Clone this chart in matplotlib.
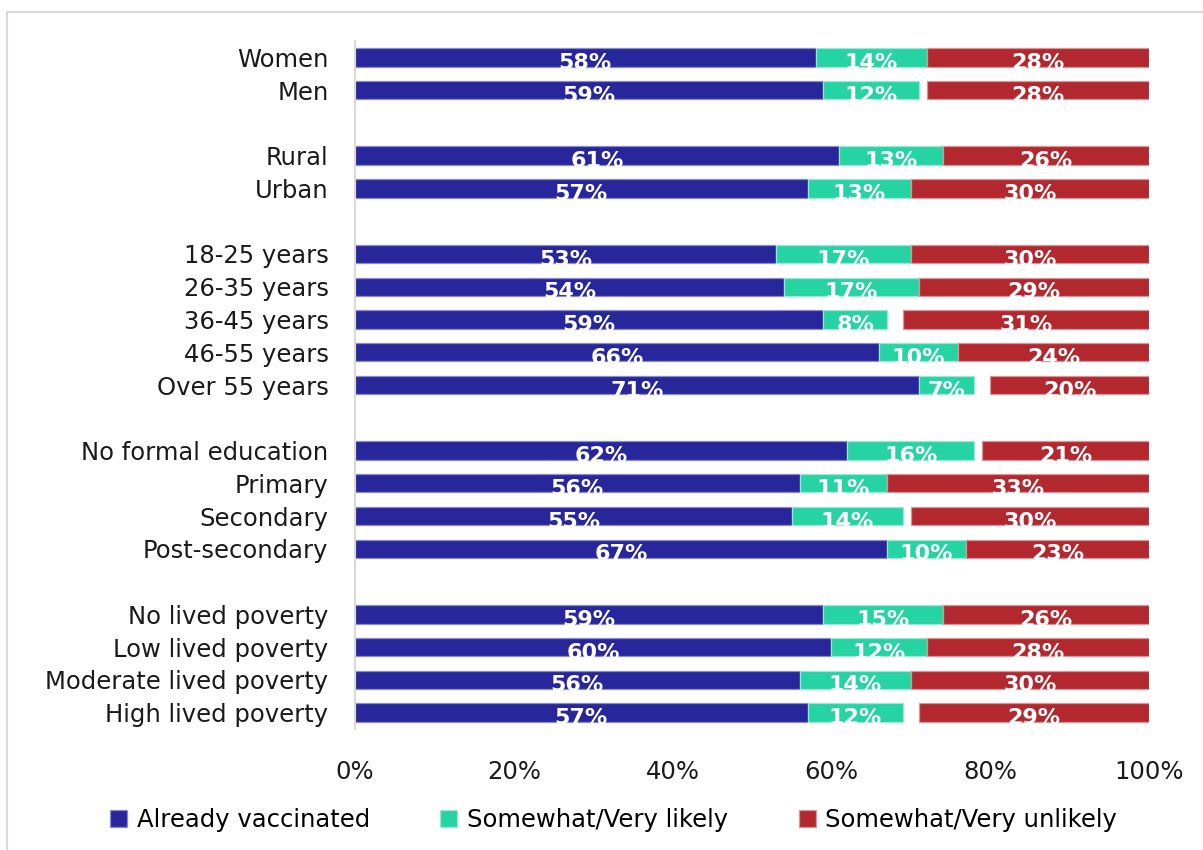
import matplotlib
matplotlib.use("Agg")
import matplotlib.pyplot as plt
from matplotlib.patches import Rectangle
from matplotlib.ticker import FuncFormatter

# Survey groups, top to bottom ("" marks a spacer row between blocks)
categories = [
    "Women", "Men", "",
    "Rural", "Urban", "",
    "18-25 years", "26-35 years", "36-45 years", "46-55 years", "Over 55 years", "",
    "No formal education", "Primary", "Secondary", "Post-secondary", "",
    "No lived poverty", "Low lived poverty", "Moderate lived poverty", "High lived poverty",
]

# Percentages per group (None for spacer rows)
vaccinated = [58, 59, None, 61, 57, None, 53, 54, 59, 66, 71, None,
              62, 56, 55, 67, None, 59, 60, 56, 57]
likely = [14, 12, None, 13, 13, None, 17, 17, 8, 10, 7, None,
          16, 11, 14, 10, None, 15, 12, 14, 12]
unlikely = [28, 28, None, 26, 30, None, 30, 29, 31, 24, 20, None,
            21, 33, 30, 23, None, 26, 28, 30, 29]

series_names = ["Already vaccinated", "Somewhat/Very likely", "Somewhat/Very unlikely"]
colors = ["#27269B", "#26D3A3", "#B3282E"]
edges = ["#8c8ccc", "#9be9d3", "#d99497"]

plt.rcParams["font.family"] = ["DejaVu Sans"]

fig = plt.figure(figsize=(12.03, 8.5), dpi=100)
ax = fig.add_axes([355 / 1203, 1 - 729 / 850, (1149 - 355) / 1203, (729 - 41) / 850])

bar_h = 0.56
label_size = 17.5
for i, (v, l, u) in enumerate(zip(vaccinated, likely, unlikely)):
    if v is None:
        continue
    # vaccinated from 0, likely stacked after it, unlikely anchored at 100%
    segs = [(0, v), (v, l), (100 - u, u)]
    for k, (left, width) in enumerate(segs):
        ax.barh(i, width, left=left, height=bar_h, color=colors[k],
                edgecolor=edges[k], linewidth=0.9,
                label=series_names[k] if i == 0 else None)
        ax.text(left + width / 2, i + 0.17, f"{width}%", ha="center", va="center",
                color="white", fontsize=16, fontweight="bold", clip_on=True)

ax.set_ylim(len(categories) - 0.5, -0.5)
ax.set_xlim(0, 100)
ax.set_yticks(range(len(categories)))
ax.set_yticklabels(categories, fontsize=label_size, color="#1a1a1a")
ax.set_xticks([0, 20, 40, 60, 80, 100])
ax.xaxis.set_major_formatter(FuncFormatter(lambda x, p: f"{int(x)}%"))
ax.tick_params(axis="x", labelsize=label_size, length=0, pad=22, colors="#1a1a1a")
ax.tick_params(axis="y", length=0, pad=19)
for side in ["top", "right", "bottom"]:
    ax.spines[side].set_visible(False)
ax.spines["left"].set_color("#d9d9d9")
ax.spines["left"].set_linewidth(1.5)

handles, labels = ax.get_legend_handles_labels()
fig.legend(handles, labels, loc="center", bbox_to_anchor=(0.51, 1 - 820 / 850),
           ncol=3, frameon=False, fontsize=label_size, handlelength=0.7,
           handleheight=0.7, handletextpad=0.4, columnspacing=2.9)

# light outer frame
fig.patches.append(Rectangle((7 / 1203, -0.02), 1.05, 1 - 12 / 850 + 0.02,
                             transform=fig.transFigure, fill=False,
                             edgecolor="#d9d9d9", linewidth=1.5))

fig.savefig("out.png", dpi=100, facecolor="white")
